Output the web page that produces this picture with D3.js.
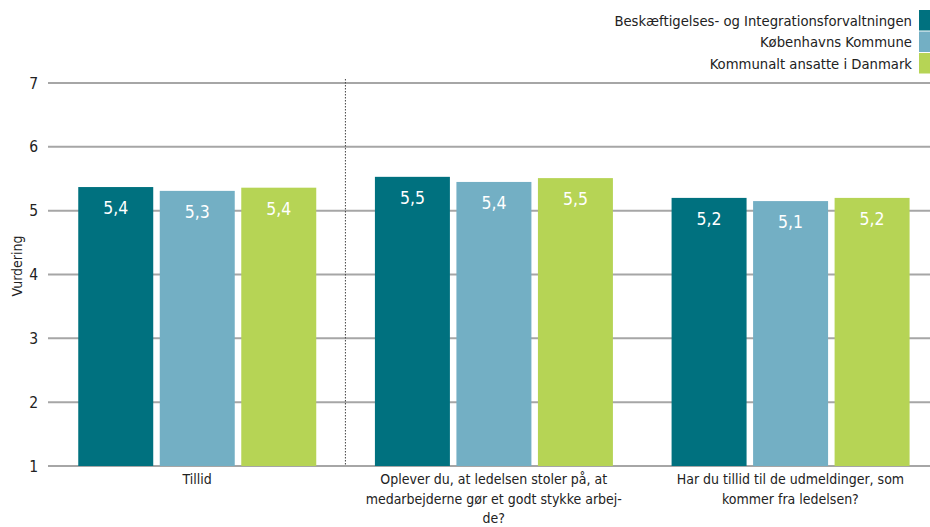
<!DOCTYPE html>
<html><head><meta charset="utf-8">
<script src="https://cdn.jsdelivr.net/npm/d3@7"></script>
<style>body{margin:0;background:#fff}svg{display:block}text{font-family:"DejaVu Sans Condensed","DejaVu Sans",sans-serif}</style>
</head><body><svg id="c" width="930" height="527"></svg>
<script>
const categories = [
  ["Tillid"],
  ["Oplever du, at ledelsen stoler på, at", "medarbejderne gør et godt stykke arbej-", "de?"],
  ["Har du tillid til de udmeldinger, som", "kommer fra ledelsen?"]
];
const seriesNames = ["Beskæftigelses- og Integrationsforvaltningen", "Københavns Kommune", "Kommunalt ansatte i Danmark"];
const seriesColors = ["#00717f", "#73afc4", "#b6d455"];
const valuesBIF = [5.37, 5.31, 5.36];
const valuesKK = [5.53, 5.45, 5.51];
const valuesDK = [5.2, 5.15, 5.2];
const byCategory = [
  [valuesBIF[0], valuesBIF[1], valuesBIF[2]],
  [valuesKK[0], valuesKK[1], valuesKK[2]],
  [valuesDK[0], valuesDK[1], valuesDK[2]]
];
const labels = [["5,4","5,3","5,4"],["5,5","5,4","5,5"],["5,2","5,1","5,2"]];
const yTicks = [1,2,3,4,5,6,7];

const svg = d3.select("#c");
const x0 = d3.scaleBand().domain([0,1,2]).range([48.75, 938.75]).paddingInner(0).paddingOuter(0);
const x1 = d3.scaleBand().domain([0,1,2]).range([29.5, 267.5]).paddingInner(0.08);
const y = d3.scaleLinear().domain([1,7]).range([466, 83]);

svg.append("g").selectAll("line").data(yTicks).join("line")
  .attr("x1", 48).attr("x2", 930).attr("y1", d=>y(d)).attr("y2", d=>y(d))
  .attr("stroke", "#a6a6a6").attr("stroke-width", 2);
svg.append("g").selectAll("text").data(yTicks).join("text")
  .attr("x", 38).attr("y", d=>y(d)).attr("dy", "0.36em").attr("text-anchor","end")
  .attr("font-size", 15.5).attr("fill", "#222").text(d=>d);
svg.append("text").attr("transform","translate(22,266) rotate(-90)").attr("text-anchor","middle")
  .attr("font-size", 14).attr("fill","#222").text("Vurdering");
svg.append("line").attr("x1", x0(1)).attr("x2", x0(1)).attr("y1", 79).attr("y2", 466)
  .attr("stroke", "#444").attr("stroke-width", 1).attr("stroke-dasharray", "1.5,1.5");

const g = svg.append("g").selectAll("g").data(byCategory).join("g")
  .attr("transform", (d,i)=>`translate(${x0(i)},0)`);
g.selectAll("rect").data(d=>d).join("rect")
  .attr("x", (d,j)=>x1(j)).attr("width", x1.bandwidth())
  .attr("y", d=>y(d)).attr("height", d=>y(1)-y(d))
  .attr("fill", (d,j)=>seriesColors[j]);
g.each(function(row,i){
  d3.select(this).selectAll("text").data(row).join("text")
    .attr("x", (d,j)=>x1(j)+x1.bandwidth()/2).attr("y", d=>y(d)+21).attr("dy","0.35em")
    .attr("text-anchor","middle").attr("font-size", 17.5).attr("fill","#fff")
    .text((d,j)=>labels[i][j]);
});

const cl = svg.append("g").selectAll("text").data(categories).join("text")
  .attr("text-anchor","middle").attr("font-size", 14).attr("fill","#222")
  .attr("transform", (d,i)=>`translate(${x0(i)+x0.bandwidth()/2},484)`);
cl.selectAll("tspan").data(d=>d).join("tspan").attr("x",0).attr("y",(d,k)=>k*19.5).text(d=>d);

const lg = svg.append("g").selectAll("g").data(seriesNames).join("g")
  .attr("transform", (d,i)=>`translate(0,${10+i*21.5})`);
lg.append("rect").attr("x", 919).attr("y", 0).attr("width", 12).attr("height", 20.5)
  .attr("fill", (d,i)=>seriesColors[i]);
lg.append("text").attr("x", 912).attr("y", 10.5).attr("dy","0.36em").attr("text-anchor","end")
  .attr("font-size", 14.7).attr("fill","#222").text(d=>d);
</script></body></html>
